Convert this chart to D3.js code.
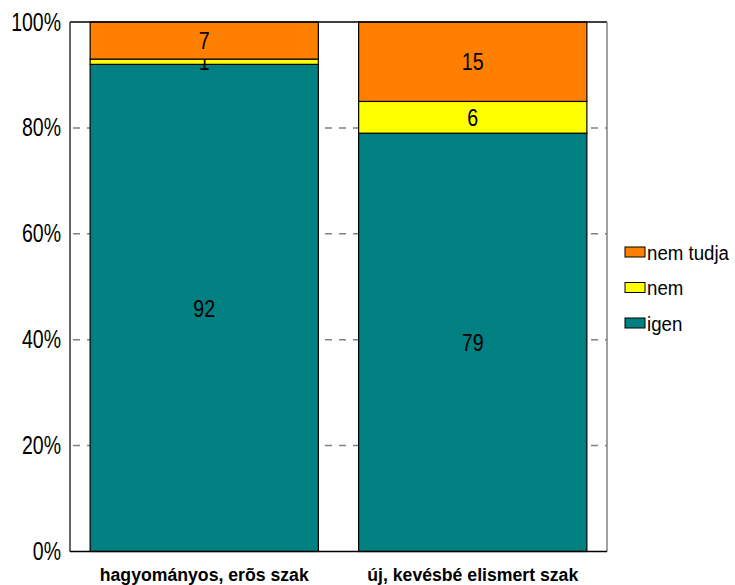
<!DOCTYPE html>
<html>
<head>
<meta charset="utf-8">
<script src="https://cdn.jsdelivr.net/npm/d3@7"></script>
<style>
body{margin:0;background:#fff;}
text{font-family:"Liberation Sans",Arial,sans-serif;}
</style>
</head>
<body>
<svg id="chart"></svg>
<script>
var categories=["hagyományos, erõs szak","új, kevésbé elismert szak"];
var seriesNames=["igen","nem","nem tudja"];
var igen=[92,79];
var nem=[1,6];
var nemTudja=[7,15];
var yTicks=[0,20,40,60,80,100];
var colors=["#008080","#FFFF00","#FF8000"];

var W=735,H=585;
var plotL=70,plotR=607,plotT=22,plotB=551.5;

// squeeze text horizontally, the original uses a narrow font
function narrow(sel,s){
  sel.each(function(){
    var t=d3.select(this);
    var x=+t.attr("x")||0;
    t.attr("x",x/s).attr("transform","scale("+s+",1)");
  });
}

var svg=d3.select("#chart").attr("width",W).attr("height",H);

var x=d3.scaleBand().domain(categories).range([plotL,plotR]).paddingInner(0.15).paddingOuter(0.075);
var y=d3.scaleLinear().domain([0,100]).range([plotB,plotT]);

var rows=categories.map(function(c,i){
  return {cat:c,"igen":igen[i],"nem":nem[i],"nem tudja":nemTudja[i]};
});
var stack=d3.stack().keys(seriesNames)(rows);

// dashed grid lines (behind the bars)
svg.append("g").selectAll("line")
  .data(yTicks.filter(function(d){return d>0&&d<100;}))
  .enter().append("line")
  .attr("x1",plotL).attr("x2",plotR)
  .attr("y1",function(d){return y(d);}).attr("y2",function(d){return y(d);})
  .attr("stroke","#808080").attr("stroke-width",1.5)
  .attr("stroke-dasharray","7,7").attr("stroke-dashoffset",-3);

var layers=svg.append("g").selectAll("g").data(stack).enter().append("g")
  .attr("fill",function(d,i){return colors[i];});

layers.selectAll("rect").data(function(d){return d;}).enter().append("rect")
  .attr("x",function(d){return x(d.data.cat);})
  .attr("width",x.bandwidth())
  .attr("y",function(d){return y(d[1]);})
  .attr("height",function(d){return y(d[0])-y(d[1]);})
  .attr("stroke","#000").attr("stroke-width",1.2);

var vals=layers.selectAll("text").data(function(d){return d;}).enter().append("text")
  .attr("x",function(d){return x(d.data.cat)+x.bandwidth()/2;})
  .attr("y",function(d){return y((d[0]+d[1])/2);})
  .attr("dy","0.36em")
  .attr("text-anchor","middle")
  .attr("fill","#000")
  .style("font-size","24px")
  .text(function(d){return d[1]-d[0];});
narrow(vals,0.82);

// frame
svg.append("line").attr("x1",plotL).attr("x2",plotR).attr("y1",plotT).attr("y2",plotT)
  .attr("stroke","#000").attr("stroke-width",1.5);
svg.append("line").attr("x1",plotR).attr("x2",plotR).attr("y1",plotT).attr("y2",plotB)
  .attr("stroke","#808080").attr("stroke-width",1.5);
svg.append("line").attr("x1",plotL).attr("x2",plotL).attr("y1",plotT).attr("y2",plotB)
  .attr("stroke","#333").attr("stroke-width",1.5);
svg.append("line").attr("x1",plotL).attr("x2",plotR).attr("y1",plotB).attr("y2",plotB)
  .attr("stroke","#000").attr("stroke-width",1.5);

// y axis labels
var yAxis=d3.axisLeft(y).tickValues(yTicks).tickSize(0).tickPadding(9)
  .tickFormat(function(d){return d+"%";});
var ya=svg.append("g").attr("transform","translate("+plotL+",0)").call(yAxis);
ya.select(".domain").remove();
ya.selectAll("text").attr("font-size",null).attr("font-family",null)
  .style("font-size","25px").attr("fill","#000");
narrow(ya.selectAll("text"),0.78);

// x axis labels
var xAxis=d3.axisBottom(x).tickSize(0).tickPadding(16);
var xa=svg.append("g").attr("transform","translate(0,"+plotB+")").call(xAxis);
xa.select(".domain").remove();
xa.selectAll("text").attr("font-size",null).attr("font-family",null)
  .style("font-size","19px").style("font-weight","bold").attr("fill","#000");
narrow(xa.selectAll("text"),0.93);

// legend
var legendItems=seriesNames.map(function(s,i){return {name:s,color:colors[i]};}).reverse();
var legend=svg.append("g").selectAll("g").data(legendItems).enter().append("g")
  .attr("transform",function(d,i){return "translate(625,"+(252+i*35.5)+")";});
legend.append("rect").attr("x",0).attr("y",-5).attr("width",20).attr("height",10)
  .attr("fill",function(d){return d.color;}).attr("stroke","#000").attr("stroke-width",1);
var lt=legend.append("text").attr("x",22).attr("y",0).attr("dy","0.36em")
  .style("font-size","21px").attr("fill","#000")
  .text(function(d){return d.name;});
narrow(lt,0.89);
</script>
</body>
</html>
